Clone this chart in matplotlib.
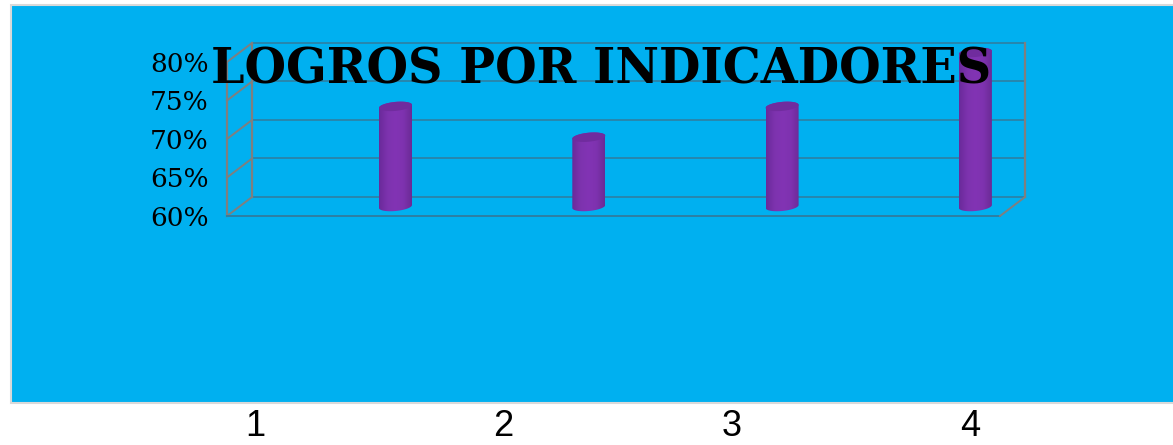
import matplotlib
matplotlib.use("Agg")
import matplotlib.pyplot as plt
import numpy as np
from matplotlib.patches import PathPatch, Rectangle
from matplotlib.path import Path
from matplotlib.colors import LinearSegmentedColormap
from matplotlib.transforms import ScaledTranslation

categorias = ["1", "2", "3", "4"]
valores = [73, 69, 73, 80]
ticks_y = [60, 65, 70, 75, 80]
ticks_lbl = ["60%", "65%", "70%", "75%", "80%"]
titulo = "LOGROS POR INDICADORES"

W, H = 1173, 445
AZUL = "#00B0F0"
GRIS = "#7F7F7F"
LINEA = "#2E7FA3"

fig = plt.figure(figsize=(W / 100, H / 100), dpi=100, facecolor="white")

# fondo azul con borde claro
fig.add_artist(Rectangle((11 / W, 1 - 403 / H), 1.01, 398 / H, transform=fig.transFigure,
                         facecolor=AZUL, edgecolor="#D9D9D9", linewidth=1.5, zorder=-1))

# el eje es el plano frontal del grafico 3D
ax = fig.add_axes([227 / W, 1 - 216 / H, 773 / W, 154 / H])
ax.patch.set_alpha(0)
x_paso = 193.3
x0 = 1 - (395.5 - 12.5 - 227) / x_paso
ax.set_xlim(x0, x0 + 773 / x_paso)
ax.set_ylim(60, 80)
px_y = 154 / 20

for s in ax.spines.values():
    s.set_visible(False)
ax.set_xticks([])
ax.set_yticks(ticks_y)
ax.set_yticklabels(ticks_lbl, family="DejaVu Serif", fontsize=19, color="black")
ax.tick_params(axis="y", length=0, pad=13)

dpi = fig.dpi
fondo = ax.transData + ScaledTranslation(25 / dpi, 19 / dpi, fig.dpi_scale_trans)
medio = ax.transData + ScaledTranslation(12.5 / dpi, 9.5 / dpi, fig.dpi_scale_trans)
xa, xb = ax.get_xlim()

# paredes y rejilla
for t in ticks_y:
    ax.plot([xa, xb], [t, t], color=LINEA, lw=1.2, transform=fondo, clip_on=False)
    ax.plot([0, 25 / dpi], [0, 19 / dpi], color=GRIS, lw=1.4, clip_on=False,
            transform=fig.dpi_scale_trans + ScaledTranslation(227 / dpi, (H - 216 + (t - 60) * px_y) / dpi, fig.dpi_scale_trans))
ax.plot([xa, xa], [60, 80], color=GRIS, lw=1.6, transform=fondo, clip_on=False)
ax.plot([xb, xb], [60, 80], color=GRIS, lw=1.6, transform=fondo, clip_on=False)
ax.plot([xa, xa], [60, 80], color=GRIS, lw=1.6, clip_on=False)
ax.plot([xa, xb], [60, 60], color=LINEA, lw=1.4, clip_on=False)
ax.plot([0, 25 / dpi], [0, 19 / dpi], color=GRIS, lw=1.4, clip_on=False,
        transform=fig.dpi_scale_trans + ScaledTranslation(1000 / dpi, (H - 216) / dpi, fig.dpi_scale_trans))

# cilindros
cmap = LinearSegmentedColormap.from_list("cil", ["#6A2A9A", "#7D33AE", "#8234B4", "#7E32AF", "#6B2A96"])
grad = np.linspace(0, 1, 64).reshape(1, -1)
ang = np.linspace(0, np.pi, 40)
rx = 16.5 / x_paso
for i, v in enumerate(valores):
    cx = i + 1
    ex = cx + rx * np.cos(ang)
    inc = 1.5 / px_y * np.cos(ang)
    alto = 4.5 / px_y * np.sin(ang)
    # cuerpo
    verts = list(zip(ex, v + inc + alto)) + list(zip(ex[::-1], 60 + inc[::-1] - alto[::-1]))
    cuerpo = PathPatch(Path(verts + [verts[0]], closed=True), transform=medio, fc="none", ec="none")
    cuerpo.set_clip_on(False)
    ax.add_patch(cuerpo)
    im = ax.imshow(grad, cmap=cmap, extent=[cx - rx, cx + rx, 59, v + 1], aspect="auto",
                   transform=medio, zorder=3)
    # la barra 4 sobresale del eje, hay que recortar con la figura
    im.set_clip_box(fig.bbox)
    im.set_clip_path(cuerpo)
    # tapa
    tv = list(zip(ex, v + inc + alto)) + list(zip(ex[::-1], v + inc[::-1] - alto[::-1]))
    ax.fill([p[0] for p in tv], [p[1] for p in tv], color="#702C9E", transform=medio,
            zorder=4, clip_on=False, lw=0)
ax.set_xlim(xa, xb)
ax.set_ylim(60, 80)

fig.text(601 / W, 1 - 70 / H, titulo, family="DejaVu Serif", fontweight="bold", fontsize=34.4,
         ha="center", va="center", color="black", zorder=10)

# categorias fuera del fondo
x_cat = [255, 503, 732, 970]
for c, xp in zip(categorias, x_cat):
    fig.text(xp / W, 1 - 427 / H, c, family="Liberation Sans", fontsize=26,
             ha="center", va="center", color="black")

fig.savefig("out.png", dpi=100, facecolor="white")
